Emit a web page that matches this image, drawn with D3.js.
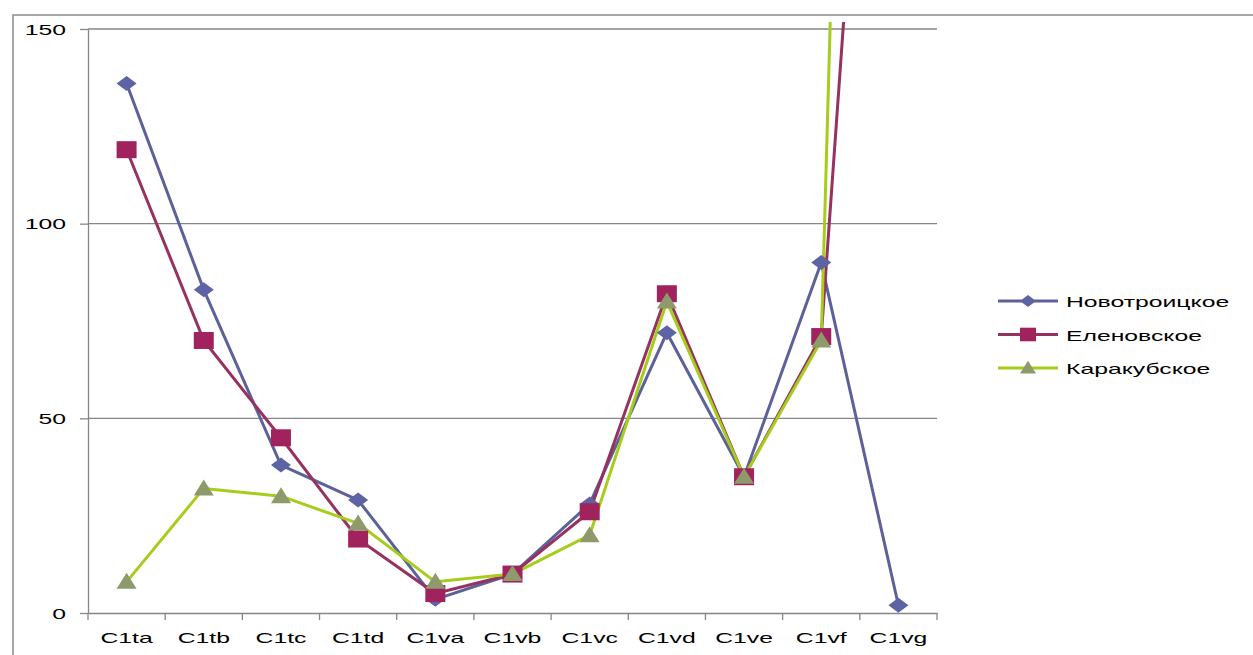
<!DOCTYPE html>
<html>
<head>
<meta charset="utf-8">
<script src="https://cdn.jsdelivr.net/npm/d3@7.9.0/dist/d3.min.js"></script>
<style>
  html, body { margin: 0; padding: 0; background: #fff; }
  svg text { font-family: Arial, "Liberation Sans", sans-serif; font-size: 15px; fill: #000; }
</style>
</head>
<body>
<svg id="chart" width="1253" height="655"></svg>
<script>
// data
const categories = ['C1ta', 'C1tb', 'C1tc', 'C1td', 'C1va', 'C1vb', 'C1vc', 'C1vd', 'C1ve', 'C1vf', 'C1vg'];
const novotroitskoe = [136, 83, 38, 29, 3.5, 10, 28, 72, 35, 90, 2];
const elenovskoe = [119, 70, 45, 19, 5, 10, 26, 82, 35, 71, 350];
const karakubskoe = [8, 32, 30, 23, 8, 10, 20, 80, 35, 70, 770];
const seriesNames = ['Новотроицкое', 'Еленовское', 'Каракубское'];
const yTicks = [0, 50, 100, 150];

const svg = d3.select('#chart');
const stretch = 1.65; // text in the picture is stretched sideways

// outer chart frame (runs off the picture on right and bottom)
svg.append('rect')
  .attr('x', 13).attr('y', 15)
  .attr('width', 1300).attr('height', 700)
  .attr('fill', 'none').attr('stroke', '#8a8a8a').attr('stroke-width', 1.5);

const x = d3.scaleBand().domain(categories).range([88, 937]);
const y = d3.scaleLinear().domain([0, 150]).range([613, 29]);

// gridlines
svg.append('g').selectAll('line')
  .data(yTicks.filter(d => d > 0))
  .join('line')
  .attr('x1', 88).attr('x2', 937)
  .attr('y1', d => y(d)).attr('y2', d => y(d))
  .attr('stroke', '#868686').attr('stroke-width', 1.3);

// y axis
const yAxis = svg.append('g')
  .attr('transform', 'translate(88,0)')
  .call(d3.axisLeft(y).tickValues(yTicks).tickSize(8).tickSizeOuter(0));
yAxis.select('.domain').attr('stroke', '#868686').attr('stroke-width', 1.3);
yAxis.selectAll('.tick line').attr('stroke', '#868686').attr('stroke-width', 1.3);
yAxis.selectAll('.tick text')
  .attr('x', null).attr('dy', null)
  .attr('transform', `translate(-22,5) scale(${stretch},1)`)
  .style('font-size', '15px').style('font-family', 'Arial, "Liberation Sans", sans-serif')
  .attr('fill', '#000');

// x axis
const xAxis = svg.append('g')
  .attr('transform', `translate(0,${y(0)})`)
  .call(d3.axisBottom(x).tickSize(0).tickSizeOuter(0));
xAxis.select('.domain').attr('stroke', '#868686').attr('stroke-width', 1.3);
xAxis.selectAll('.tick text')
  .attr('y', null).attr('dy', null)
  .attr('transform', `translate(0,30) scale(${stretch},1)`)
  .style('font-size', '15px').style('font-family', 'Arial, "Liberation Sans", sans-serif')
  .attr('fill', '#000');
// tick marks sit on the category borders
const borders = categories.map(c => x(c)).concat([x.range()[1]]);
xAxis.selectAll('line.border')
  .data(borders)
  .join('line')
  .attr('class', 'border')
  .attr('x1', d => d).attr('x2', d => d)
  .attr('y1', 0).attr('y2', 7)
  .attr('stroke', '#868686').attr('stroke-width', 1.3);

// clip for lines that leave the plot
svg.append('clipPath').attr('id', 'plotclip')
  .append('rect').attr('x', 80).attr('y', 22).attr('width', 870).attr('height', 600);

const series = [
  { name: seriesNames[0], values: novotroitskoe, line: '#5c6199', fill: '#5d63a3', marker: 'diamond' },
  { name: seriesNames[1], values: elenovskoe, line: '#963260', fill: '#a0235e', marker: 'square' },
  { name: seriesNames[2], values: karakubskoe, line: '#a6cc1c', fill: '#8f9a6c', marker: 'triangle' }
];

function markerPath(kind) {
  if (kind === 'diamond') return 'M-10,0L0,-7.5L10,0L0,7.5Z';
  if (kind === 'square') return 'M-10,-8.5L10,-8.5L10,8.5L-10,8.5Z';
  return 'M0,-9L10,7L-10,7Z';
}

const lineGen = d3.line()
  .x((d, i) => x(categories[i]) + x.bandwidth() / 2)
  .y(d => y(d));

const linesG = svg.append('g').attr('clip-path', 'url(#plotclip)');
series.forEach(s => {
  linesG.append('path')
    .attr('d', lineGen(s.values))
    .attr('fill', 'none')
    .attr('stroke', s.line)
    .attr('stroke-width', 3)
    .attr('stroke-linejoin', 'round');
});

const markersG = svg.append('g').attr('clip-path', 'url(#plotclip)');
series.forEach(s => {
  markersG.selectAll(null)
    .data(s.values)
    .join('path')
    .attr('d', markerPath(s.marker))
    .attr('transform', (d, i) => `translate(${x(categories[i]) + x.bandwidth() / 2},${y(d)})`)
    .attr('fill', s.fill);
});

// legend
const legend = svg.append('g');
const legendY = d3.scalePoint().domain(seriesNames).range([301, 368]);
series.forEach(s => {
  const g = legend.append('g').attr('transform', `translate(0,${legendY(s.name)})`);
  g.append('line')
    .attr('x1', 998).attr('x2', 1058)
    .attr('stroke', s.line).attr('stroke-width', 3);
  g.append('path')
    .attr('d', markerPath(s.marker))
    .attr('transform', 'translate(1028,0) scale(0.8)')
    .attr('fill', s.fill);
  g.append('text')
    .attr('transform', `translate(1066,6) scale(${stretch},1)`)
    .text(s.name);
});
</script>
</body>
</html>
